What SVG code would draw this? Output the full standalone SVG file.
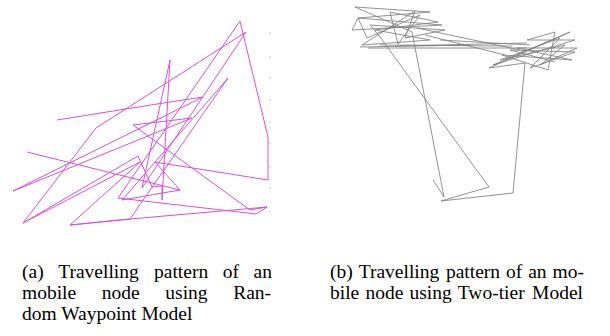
<svg xmlns="http://www.w3.org/2000/svg" width="610" height="336" viewBox="0 0 610 336">
<style>
.rwp{fill:none;stroke:#d850d8;stroke-width:1;stroke-linejoin:miter}
.tt{fill:none;stroke:#808080;stroke-width:0.85}
.tick{stroke:#c8c8c8;stroke-width:1}
.cap{font-size:19.5px;fill:#000}
</style>
<rect width="610" height="336" fill="#fff"/>
<g id="plot-a">
<path class="rwp" d="M57,120 L157,104 L203,97 L13,191 L192,118 L133,125 L250,210 L267,207 L256,214 L118,198 L240,21 L268,137 L268,180 L155,162 L180,190 L122,200 L228,78 L130,219 L70,225 L140,162 L23,223 L96,128 L246,32 L142,188 L170,60 L162,200 L162,186 L152,187 L138,156 L23,223"/>
<path class="rwp" d="M27,152 L180,190"/>
<path class="rwp" d="M70,225 L130,219 L267,207"/>
<g class="tick">
<line x1="269" y1="33" x2="271" y2="33"/><line x1="269" y1="57" x2="271" y2="57"/><line x1="269" y1="78" x2="271" y2="78"/><line x1="269" y1="100" x2="271" y2="100"/><line x1="269" y1="122" x2="271" y2="122"/><line x1="269" y1="143" x2="271" y2="143"/><line x1="269" y1="167" x2="271" y2="167"/><line x1="269" y1="188" x2="271" y2="188"/><line x1="269" y1="212" x2="271" y2="212"/>
</g>
</g>
<g id="plot-b">
<path class="tt" d="M433,180 L444,197 L412,32 L355,7 L430,12 L358,18 L442,25 L352,30 L358,18 L367,38 L420,15 L398,44 L390,12 L438,22 L375,30 L430,40 L362,45 L415,11 L405,38 L445,30 L370,25 L380,37 L489,187 L441,201 L513,193 L525,63"/>
<path class="tt" d="M525,63 L489,68 L570,32 L493,65 L575,40 L527,40 L555,32 L548,70 L502,55 L572,60 L517,48 L577,48 L540,65 L565,45 L500,60 L560,38 L530,68 L575,52 L510,50 L555,62"/>
<path class="tt" d="M368,48 L527,48 M395,46 L527,43 M417,28 L520,50 M440,40 L530,45 M380,45 L512,46 M360,47 L470,45 M425,35 L505,55"/>
</g>
<g id="captions" font-family="Liberation Serif, serif">
<text class="cap" font-family="Liberation Serif, serif" y="278"><tspan x="22">(a)</tspan><tspan x="58.2">Travelling</tspan><tspan x="154">pattern</tspan><tspan x="222.8">of</tspan><tspan x="253.6">an</tspan></text>
<text class="cap" font-family="Liberation Serif, serif" y="299"><tspan x="22">mobile</tspan><tspan x="101.8">node</tspan><tspan x="165.3">using</tspan><tspan x="233.2">Ran-</tspan></text>
<text class="cap" font-family="Liberation Serif, serif" x="22" y="320">dom Waypoint Model</text>
<text class="cap" font-family="Liberation Serif, serif" y="278"><tspan x="330">(b)</tspan><tspan x="358.7">Travelling</tspan><tspan x="445.9">pattern</tspan><tspan x="506">of</tspan><tspan x="528.2">an</tspan><tspan x="552.6">mo-</tspan></text>
<text class="cap" font-family="Liberation Serif, serif" y="299"><tspan x="330">bile</tspan><tspan x="365.4">node</tspan><tspan x="409.4">using</tspan><tspan x="457.8">Two-tier</tspan><tspan x="532.1">Model</tspan></text>
</g>
</svg>
